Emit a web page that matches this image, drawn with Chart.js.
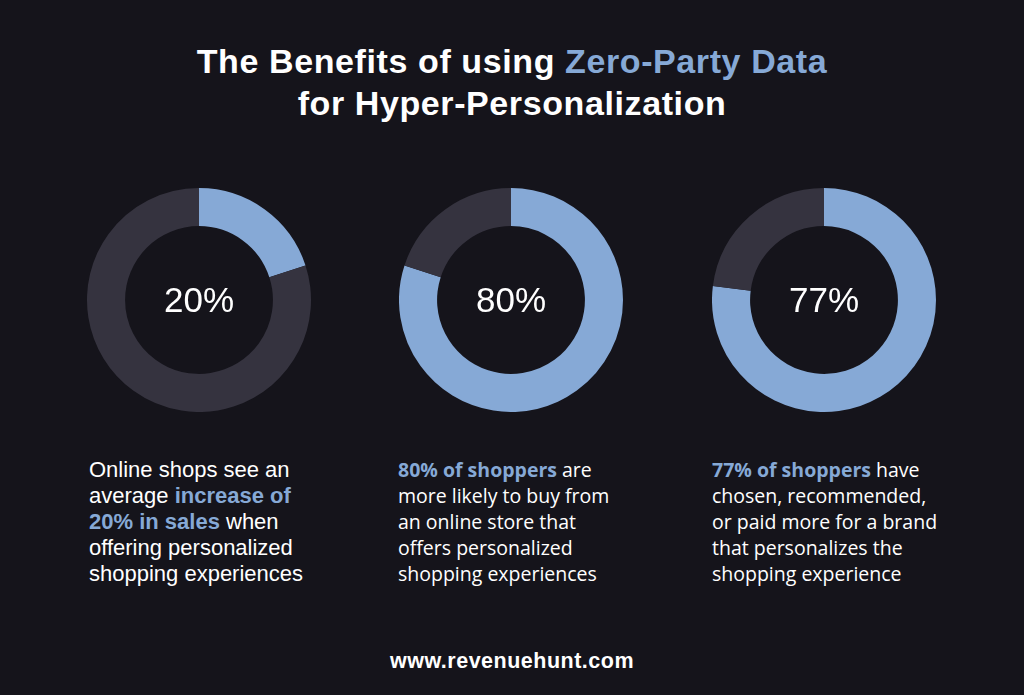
<!DOCTYPE html>
<html><head><meta charset="utf-8">
<script src="https://cdn.jsdelivr.net/npm/chart.js@4"></script>
<style>
html,body{margin:0;padding:0;background:#15141b;width:1024px;height:695px;overflow:hidden}
#root{position:relative;width:1024px;height:695px;background:#15141b;color:#fff}
.title{position:absolute;left:0;width:1024px;text-align:center;font-family:"Liberation Sans",Arial,sans-serif;font-weight:bold;font-size:34px;letter-spacing:0.6px;line-height:42px;top:40px}
.hl{color:#86a9d6}
.donut{position:absolute;width:224px;height:224px;top:188px}
.donut canvas{display:block;width:224px;height:224px}
.center{position:absolute;left:0;top:0;width:224px;height:224px;display:flex;align-items:center;justify-content:center;font-family:"Liberation Sans",Arial,sans-serif;font-size:35px;color:#fff;pointer-events:none}
.desc{position:absolute;top:457px;font-size:22px;line-height:26px;white-space:nowrap}
.d1{font-family:"Liberation Sans",Arial,sans-serif}
.d2,.d3{font-family:"Open Sans",sans-serif;font-size:19.5px}
.b{font-weight:bold;color:#86a9d6}
.footer{position:absolute;left:0;width:1024px;text-align:center;top:649px;font-family:"Liberation Sans",Arial,sans-serif;font-weight:bold;font-size:21.5px;letter-spacing:0.5px}
</style></head>
<body><div id="root">
<div class="title">The Benefits of using <span class="hl">Zero-Party Data</span><br>for Hyper-Personalization</div>
<div class="donut" style="left:87px"><canvas id="c0" width="224" height="224"></canvas><div class="center" id="t0"></div></div>
<div class="donut" style="left:399px"><canvas id="c1" width="224" height="224"></canvas><div class="center" id="t1"></div></div>
<div class="donut" style="left:712px"><canvas id="c2" width="224" height="224"></canvas><div class="center" id="t2"></div></div>
<div class="desc d1" style="left:89px">Online shops see an<br>average <span class="b">increase of</span><br><span class="b">20% in sales</span> when<br>offering personalized<br>shopping experiences</div>
<div class="desc d2" style="left:398px"><span class="b">80% of shoppers</span> are<br>more likely to buy from<br>an online store that<br>offers personalized<br>shopping experiences</div>
<div class="desc d3" style="left:712px"><span class="b">77% of shoppers</span> have<br>chosen, recommended,<br>or paid more for a brand<br>that personalizes the<br>shopping experience</div>
<div class="footer">www.revenuehunt.com</div>
</div>
<script>
const statLabels = ["Sales increase", "Shoppers more likely to buy", "Shoppers chose/paid more"];
const statValues = [20, 80, 77];
const restValues = [80, 20, 23];
const sliceColors = ["#86a9d6", "#35333f"];

statValues.forEach((v, i) => {
  document.getElementById('t' + i).textContent = v + '%';
  new Chart(document.getElementById('c' + i), {
    type: 'doughnut',
    data: {
      labels: [statLabels[i], 'Other'],
      datasets: [{ data: [v, restValues[i]], backgroundColor: sliceColors, borderWidth: 0 }]
    },
    options: {
      responsive: false,
      maintainAspectRatio: false,
      animation: false,
      cutout: '66%',
      layout: { padding: 0 },
      plugins: { legend: { display: false }, tooltip: { enabled: false } },
      events: []
    }
  });
});
</script>
</body></html>
